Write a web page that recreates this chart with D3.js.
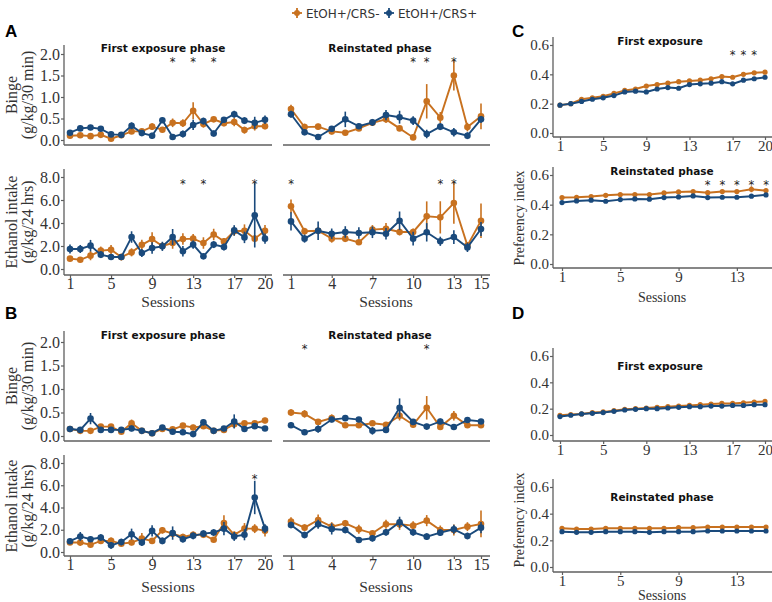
<!DOCTYPE html>
<html><head><meta charset="utf-8">
<script src="https://cdn.jsdelivr.net/npm/d3@7"></script>
<style>body{margin:0;background:#fff}</style>
</head><body><svg id="c" width="772" height="602"></svg>
<script>
// ---------- DATA ----------
const groups = ["EtOH+/CRS-", "EtOH+/CRS+"];
const sessionsFirst = d3.range(1, 21);
const sessionsReinst = d3.range(1, 16);
const xTicksFirst = [1, 5, 9, 13, 17, 20];
const xTicksReinst = [1, 4, 7, 10, 13, 15];
const xTicksReinstPI = [1, 5, 9, 13];
const yTicksBinge = [0, 0.5, 1.0, 1.5, 2.0];
const yTicksIntake = [0, 2, 4, 6, 8];
const yTicksPI = [0, 0.2, 0.4, 0.6];

// Panel A – binge, first exposure
const aBingeFirstO = [0.1,0.11,0.09,0.12,0.03,0.11,0.2,0.2,0.31,0.24,0.4,0.39,0.68,0.37,0.48,0.39,0.42,0.23,0.32,0.32];
const aBingeFirstOe = [0.04,0.04,0.03,0.05,0.03,0.04,0.06,0.05,0.08,0.06,0.1,0.09,0.2,0.08,0.06,0.07,0.1,0.08,0.1,0.07];
const aBingeFirstB = [0.17,0.27,0.29,0.26,0.13,0.12,0.33,0.16,0.1,0.46,0.07,0.14,0.35,0.44,0.15,0.47,0.6,0.45,0.4,0.47];
const aBingeFirstBe = [0.05,0.06,0.06,0.05,0.04,0.04,0.08,0.04,0.07,0.06,0.04,0.08,0.12,0.08,0.07,0.06,0.08,0.08,0.14,0.1];
// Panel A – binge, reinstated
const aBingeReO = [0.72,0.3,0.31,0.2,0.17,0.27,0.4,0.48,0.27,0.06,0.9,0.52,1.5,0.3,0.55];
const aBingeReOe = [0.1,0.08,0.07,0.07,0.06,0.05,0.07,0.08,0.06,0.06,0.4,0.13,0.35,0.1,0.3];
const aBingeReB = [0.6,0.18,0.07,0.26,0.48,0.32,0.41,0.58,0.53,0.45,0.14,0.31,0.18,0.1,0.48];
const aBingeReBe = [0.08,0.07,0.07,0.05,0.18,0.06,0.08,0.12,0.15,0.1,0.1,0.08,0.1,0.08,0.08];
// Panel A – intake, first exposure
const aIntFirstO = [0.9,0.8,1.16,1.6,1.68,1.04,1.45,2.1,2.6,2.0,2.26,2.6,2.64,2.26,3.0,2.4,3.28,3.33,2.64,3.33];
const aIntFirstOe = [0.2,0.15,0.4,0.35,0.4,0.3,0.35,0.45,0.6,0.3,0.5,0.5,0.4,0.5,0.5,0.3,0.4,0.55,0.3,0.5];
const aIntFirstB = [1.74,1.74,2.03,1.25,1.04,1.04,2.78,1.39,1.83,1.97,2.78,1.54,2.12,1.1,2.12,1.91,3.36,2.75,4.67,2.64];
const aIntFirstBe = [0.4,0.35,0.5,0.3,0.25,0.2,0.5,0.35,0.5,0.4,0.7,0.45,0.35,0.2,0.3,0.3,0.45,0.5,2.8,0.45];
// Panel A – intake, reinstated
const aIntReO = [5.45,3.28,3.33,2.64,2.64,2.32,3.42,3.5,3.22,3.22,4.58,4.49,5.74,2.03,4.2];
const aIntReOe = [0.6,0.3,0.3,0.35,0.3,0.2,0.4,0.5,0.3,0.3,1.3,1.4,1.8,0.3,1.5];
const aIntReB = [4.14,2.64,3.33,3.07,3.22,3.13,3.19,3.07,4.2,2.64,3.19,2.41,2.78,1.88,3.48];
const aIntReBe = [0.8,0.35,0.8,0.45,0.5,0.5,0.5,0.5,0.8,0.6,0.8,0.4,0.6,0.4,0.6];
// Panel B – binge, first exposure
const bBingeFirstO = [0.15,0.11,0.11,0.2,0.2,0.09,0.27,0.11,0.06,0.15,0.14,0.22,0.18,0.21,0.11,0.13,0.25,0.27,0.27,0.33];
const bBingeFirstOe = [0.04,0.04,0.04,0.05,0.05,0.04,0.08,0.04,0.03,0.04,0.04,0.05,0.06,0.05,0.04,0.04,0.08,0.05,0.05,0.06];
const bBingeFirstB = [0.15,0.13,0.37,0.13,0.13,0.13,0.16,0.11,0.06,0.18,0.09,0.08,0.04,0.29,0.11,0.16,0.31,0.15,0.21,0.16];
const bBingeFirstBe = [0.04,0.06,0.12,0.05,0.05,0.04,0.06,0.04,0.03,0.05,0.05,0.06,0.04,0.06,0.04,0.04,0.15,0.05,0.06,0.05];
// Panel B – binge, reinstated
const bBingeReO = [0.5,0.47,0.3,0.38,0.23,0.23,0.27,0.24,0.43,0.24,0.6,0.19,0.43,0.23,0.23];
const bBingeReOe = [0.07,0.08,0.05,0.08,0.05,0.05,0.05,0.05,0.1,0.06,0.25,0.05,0.1,0.05,0.05];
const bBingeReB = [0.23,0.08,0.15,0.35,0.38,0.35,0.11,0.13,0.6,0.3,0.2,0.31,0.19,0.34,0.31];
const bBingeReBe = [0.06,0.04,0.08,0.06,0.06,0.05,0.08,0.04,0.2,0.05,0.06,0.06,0.05,0.05,0.05];
// Panel B – intake, first exposure
const bIntFirstO = [0.85,0.85,0.65,1.0,1.0,0.75,0.85,1.2,1.0,1.95,1.65,1.35,1.55,1.55,1.1,2.6,1.55,2.1,2.1,1.9];
const bIntFirstOe = [0.2,0.3,0.15,0.25,0.3,0.2,0.25,0.5,0.2,0.3,0.3,0.3,0.3,0.3,0.2,0.7,0.3,0.5,0.4,0.5];
const bIntFirstB = [0.97,1.4,1.15,1.3,0.6,0.9,1.6,0.85,1.9,1.0,1.7,1.15,1.45,1.65,1.75,2.1,1.4,1.55,4.9,2.1];
const bIntFirstBe = [0.25,0.4,0.25,0.3,0.3,0.3,0.5,0.3,0.5,0.3,0.6,0.3,0.3,0.3,0.3,0.6,0.4,0.5,1.5,0.4];
// Panel B – intake, reinstated
const bIntReO = [2.73,2.19,2.88,2.28,2.58,2.04,1.68,2.49,2.49,2.37,2.82,1.98,1.98,2.28,2.52];
const bIntReOe = [0.4,0.3,0.5,0.4,0.3,0.4,0.2,0.4,0.5,0.4,0.5,0.4,0.5,0.4,1.2];
const bIntReB = [2.43,1.53,2.49,2.07,1.98,1.08,1.23,1.77,2.67,1.77,1.38,1.74,2.04,1.44,2.19];
const bIntReBe = [0.3,0.3,0.4,0.5,0.3,0.2,0.3,0.3,0.5,0.3,0.3,0.3,0.4,0.3,0.5];
// Panel C – preference index
const cFirstO = [0.19,0.2,0.23,0.24,0.25,0.27,0.29,0.3,0.32,0.33,0.34,0.35,0.355,0.36,0.37,0.385,0.38,0.4,0.41,0.415];
const cFirstB = [0.19,0.2,0.215,0.23,0.24,0.255,0.28,0.285,0.28,0.3,0.31,0.305,0.33,0.335,0.34,0.35,0.335,0.36,0.37,0.38];
const cFirstOe = [0.006,0.006,0.006,0.007,0.007,0.007,0.007,0.008,0.008,0.008,0.008,0.008,0.008,0.009,0.009,0.009,0.009,0.009,0.01,0.01];
const cFirstBe = [0.006,0.006,0.006,0.007,0.007,0.007,0.007,0.008,0.008,0.008,0.008,0.008,0.008,0.009,0.009,0.009,0.009,0.009,0.01,0.01];
const cReO = [0.448,0.45,0.455,0.463,0.468,0.468,0.468,0.479,0.486,0.488,0.481,0.488,0.488,0.504,0.495];
const cReB = [0.414,0.425,0.43,0.423,0.434,0.439,0.437,0.448,0.452,0.459,0.448,0.45,0.45,0.457,0.466];
const cReOe = [0.008,0.008,0.008,0.008,0.008,0.008,0.008,0.009,0.009,0.009,0.01,0.012,0.012,0.02,0.012];
const cReBe = [0.008,0.008,0.008,0.008,0.008,0.008,0.008,0.009,0.009,0.009,0.009,0.009,0.009,0.009,0.009];
// Panel D – preference index
const dFirstO = [0.15,0.155,0.16,0.17,0.175,0.185,0.195,0.2,0.205,0.21,0.215,0.22,0.225,0.23,0.235,0.24,0.24,0.245,0.25,0.255];
const dFirstB = [0.14,0.15,0.16,0.165,0.17,0.18,0.19,0.195,0.2,0.2,0.205,0.21,0.215,0.215,0.22,0.22,0.225,0.225,0.23,0.23];
const dFirstOe = [0.005,0.005,0.005,0.005,0.005,0.005,0.006,0.006,0.006,0.006,0.006,0.006,0.006,0.006,0.006,0.006,0.006,0.006,0.007,0.007];
const dFirstBe = [0.005,0.005,0.005,0.005,0.005,0.005,0.006,0.006,0.006,0.006,0.006,0.006,0.006,0.006,0.006,0.006,0.006,0.006,0.007,0.007];
const dReO = [0.29,0.285,0.285,0.29,0.29,0.29,0.29,0.29,0.295,0.295,0.3,0.3,0.3,0.3,0.3];
const dReB = [0.265,0.26,0.26,0.265,0.265,0.265,0.26,0.265,0.265,0.265,0.27,0.27,0.27,0.27,0.27];
const dReOe = [0.006,0.006,0.006,0.006,0.006,0.006,0.006,0.006,0.006,0.006,0.006,0.006,0.006,0.006,0.006];
const dReBe = [0.006,0.006,0.006,0.006,0.006,0.006,0.006,0.006,0.006,0.006,0.006,0.006,0.006,0.006,0.006];

// significance stars (session numbers)
const starsABingeFirst = [11, 13, 15];
const starsABingeRe = [10, 11, 13];
const starsAIntFirst = [12, 14, 19];
const starsAIntRe = [1, 12, 13];
const starsBBingeRe = [2, 11];
const starsBIntFirst = [19];
const starsCFirst = [17, 18, 19];
const starsCRe = [11, 12, 13, 14, 15];

// ---------- DRAWING ----------
const ORANGE = "#c8711f", BLUE = "#1a4a7c", AX = "#5f5f5f", TXT = "#333333";
const SERIF = "'Liberation Serif', 'DejaVu Serif', serif";
const SANS = "'DejaVu Sans', sans-serif";
const svg = d3.select("#c");
svg.append("rect").attr("width", 772).attr("height", 602).attr("fill", "#fff");

function panel(c) {
  const n = c.o.length;
  const x = d3.scaleLinear().domain([1, n]).range(c.xr);
  const y = d3.scaleLinear().domain([0, c.vmax]).range(c.yr);
  const g = svg.append("g");
  g.append("line").attr("x1", c.ax[0]).attr("x2", c.ax[1]).attr("y1", c.axisY).attr("y2", c.axisY)
    .attr("stroke", AX).attr("stroke-width", 1.3);
  if (c.xticks) {
    const gx = g.append("g").attr("transform", `translate(0,${c.axisY})`)
      .call(d3.axisBottom(x).tickValues(c.xticks).tickSize(3).tickPadding(0).tickFormat(d3.format("d")));
    gx.select(".domain").remove();
    gx.selectAll("line").attr("stroke", AX).attr("stroke-width", 1.2);
    gx.selectAll("text").attr("font-family", SERIF).attr("font-size", c.fs || 16).attr("fill", TXT);
  }
  if (c.yticks) {
    g.append("line").attr("x1", c.ax[0]).attr("x2", c.ax[0]).attr("y1", c.top).attr("y2", c.axisY)
      .attr("stroke", AX).attr("stroke-width", 1.3);
    const gy = g.append("g").attr("transform", `translate(${c.ax[0]},0)`)
      .call(d3.axisLeft(y).tickValues(c.yticks).tickSize(3).tickPadding(1).tickFormat(d3.format(".1f")));
    gy.select(".domain").remove();
    gy.selectAll("line").attr("stroke", AX).attr("stroke-width", 1.2);
    gy.selectAll("text").attr("font-family", SERIF).attr("font-size", c.fs || 16).attr("fill", TXT);
  }
  const series = [{v: c.o, e: c.oe, col: ORANGE}, {v: c.b, e: c.be, col: BLUE}];
  const lw = c.lw || 1.9, r = c.r || 3.3;
  series.forEach(s => {
    const pts = s.v.map((v, i) => ({s: i + 1, v, e: s.e[i]}));
    g.append("g").selectAll("line").data(pts).join("line")
      .attr("x1", d => x(d.s)).attr("x2", d => x(d.s))
      .attr("y1", d => y(d.v - d.e)).attr("y2", d => y(d.v + d.e))
      .attr("stroke", s.col).attr("stroke-width", 1.6);
    g.append("path").datum(pts)
      .attr("d", d3.line().x(d => x(d.s)).y(d => y(d.v)))
      .attr("fill", "none").attr("stroke", s.col).attr("stroke-width", lw);
    g.append("g").selectAll("circle").data(pts).join("circle")
      .attr("cx", d => x(d.s)).attr("cy", d => y(d.v)).attr("r", r).attr("fill", s.col);
  });
  if (c.stars) {
    g.append("g").selectAll("text").data(c.stars).join("text")
      .attr("x", d => x(d)).attr("y", c.starY + 6.5).attr("text-anchor", "middle")
      .attr("font-family", SANS).attr("font-size", 11.5).attr("fill", "#222").text("*");
  }
  if (c.title) {
    g.append("text").attr("x", c.title[1]).attr("y", c.title[2]).attr("text-anchor", "middle")
      .attr("font-family", SANS).attr("font-weight", "bold").attr("font-size", 10.5).attr("fill", "#111")
      .text(c.title[0]);
  }
}

function ylab(lines, cx, cy, fs) {
  lines.forEach((t, i) => {
    svg.append("text").attr("transform", `translate(${cx[i]},${cy}) rotate(-90)`)
      .attr("text-anchor", "middle").attr("font-family", SERIF).attr("font-size", fs)
      .attr("fill", TXT).text(t);
  });
}
function label(t, x, y, fs, fam) {
  svg.append("text").attr("x", x).attr("y", y).attr("text-anchor", "middle")
    .attr("font-family", fam || SERIF).attr("font-size", fs).attr("fill", TXT).text(t);
}
function letter(t, x, y) {
  svg.append("text").attr("x", x).attr("y", y).attr("font-family", "'Liberation Sans', Arial, sans-serif")
    .attr("font-weight", "bold").attr("font-size", 17).attr("fill", "#000").text(t);
}

// Legend
const leg = svg.append("g");
[[groups[0], ORANGE, 297], [groups[1], BLUE, 389]].forEach(([t, col, lx]) => {
  leg.append("line").attr("x1", lx - 5).attr("x2", lx + 5).attr("y1", 13).attr("y2", 13).attr("stroke", col).attr("stroke-width", 1.8);
  leg.append("line").attr("x1", lx).attr("x2", lx).attr("y1", 8).attr("y2", 18).attr("stroke", col).attr("stroke-width", 1.8);
  leg.append("circle").attr("cx", lx).attr("cy", 13).attr("r", 3).attr("fill", col);
  leg.append("text").attr("x", lx + 9).attr("y", 17.5).attr("font-family", SANS).attr("font-size", 12)
    .attr("fill", "#333").text(t);
});

// Panel letters
letter("A", 5, 37); letter("B", 5, 319); letter("C", 512, 37); letter("D", 512, 319);

// ---- Panel A ----
const FX = [70, 265], RX = [291, 481];
panel({o: aBingeFirstO, oe: aBingeFirstOe, b: aBingeFirstB, be: aBingeFirstBe, xr: FX, vmax: 2, yr: [140, 54],
  ax: [64, 272], axisY: 145, top: 45, yticks: yTicksBinge, stars: starsABingeFirst, starY: 59,
  title: ["First exposure phase", 163, 52]});
panel({o: aBingeReO, oe: aBingeReOe, b: aBingeReB, be: aBingeReBe, xr: RX, vmax: 2, yr: [140, 54],
  ax: [283, 490], axisY: 145, stars: starsABingeRe, starY: 59, title: ["Reinstated phase", 380, 52]});
panel({o: aIntFirstO, oe: aIntFirstOe, b: aIntFirstB, be: aIntFirstBe, xr: FX, vmax: 8, yr: [269, 177],
  ax: [64, 272], axisY: 275, top: 169, yticks: yTicksIntake, xticks: xTicksFirst, stars: starsAIntFirst, starY: 181});
panel({o: aIntReO, oe: aIntReOe, b: aIntReB, be: aIntReBe, xr: RX, vmax: 8, yr: [269, 177],
  ax: [283, 490], axisY: 275, xticks: xTicksReinst, stars: starsAIntRe, starY: 181});
ylab(["Binge", "(g/kg/30 min)"], [17, 33], 95, 16);
ylab(["Ethanol intake", "(g/kg/24 hrs)"], [17, 33], 222, 16);
label("Sessions", 168, 306.5, 15.5); label("Sessions", 386, 306.5, 15.5);

// ---- Panel B ----
panel({o: bBingeFirstO, oe: bBingeFirstOe, b: bBingeFirstB, be: bBingeFirstBe, xr: FX, vmax: 2, yr: [436, 342],
  ax: [64, 272], axisY: 441, top: 331, yticks: yTicksBinge, title: ["First exposure phase", 163, 339]});
panel({o: bBingeReO, oe: bBingeReOe, b: bBingeReB, be: bBingeReBe, xr: RX, vmax: 2, yr: [436, 342],
  ax: [283, 490], axisY: 441, stars: starsBBingeRe, starY: 346, title: ["Reinstated phase", 380, 339]});
panel({o: bIntFirstO, oe: bIntFirstOe, b: bIntFirstB, be: bIntFirstBe, xr: FX, vmax: 8, yr: [552, 463],
  ax: [64, 272], axisY: 556, top: 455, yticks: yTicksIntake, xticks: xTicksFirst, stars: starsBIntFirst, starY: 476});
panel({o: bIntReO, oe: bIntReOe, b: bIntReB, be: bIntReBe, xr: RX, vmax: 8, yr: [552, 463],
  ax: [283, 490], axisY: 556, xticks: xTicksReinst});
ylab(["Binge", "(g/kg/30 min)"], [17, 33], 386, 16);
ylab(["Ethanol intake", "(g/kg/24 hrs)"], [17, 33], 506, 16);
label("Sessions", 168, 592, 15.5); label("Sessions", 386, 592, 15.5);

// ---- Panel C ----
const CFX = [560, 765], CRX = [562, 766];
panel({o: cFirstO, oe: cFirstOe, b: cFirstB, be: cFirstBe, xr: CFX, vmax: 0.6, yr: [133, 45],
  ax: [553, 772], axisY: 137, top: 37, yticks: yTicksPI, xticks: xTicksFirst, stars: starsCFirst, starY: 52,
  title: ["First exposure", 660, 45], lw: 2, r: 2.6, fs: 15});
panel({o: cReO, oe: cReOe, b: cReB, be: cReBe, xr: CRX, vmax: 0.6, yr: [264, 175],
  ax: [553, 772], axisY: 268, top: 167, yticks: yTicksPI, xticks: xTicksReinstPI, stars: starsCRe, starY: 182,
  title: ["Reinstated phase", 662, 175], lw: 2, r: 2.6, fs: 15});
ylab(["Preferency index"], [524], 218, 14);
label("Sessions", 662, 302, 14);

// ---- Panel D ----
panel({o: dFirstO, oe: dFirstOe, b: dFirstB, be: dFirstBe, xr: CFX, vmax: 0.6, yr: [435, 356],
  ax: [553, 772], axisY: 441, top: 348, yticks: yTicksPI, xticks: xTicksFirst,
  title: ["First exposure", 660, 370], lw: 2, r: 2.6, fs: 15});
panel({o: dReO, oe: dReOe, b: dReB, be: dReBe, xr: CRX, vmax: 0.6, yr: [567, 487],
  ax: [553, 772], axisY: 572, top: 479, yticks: yTicksPI, xticks: xTicksReinstPI,
  title: ["Reinstated phase", 662, 501], lw: 2, r: 2.6, fs: 15});
ylab(["Preferency index"], [524], 520, 14);
label("Sessions", 662, 600, 14);
</script></body></html>
